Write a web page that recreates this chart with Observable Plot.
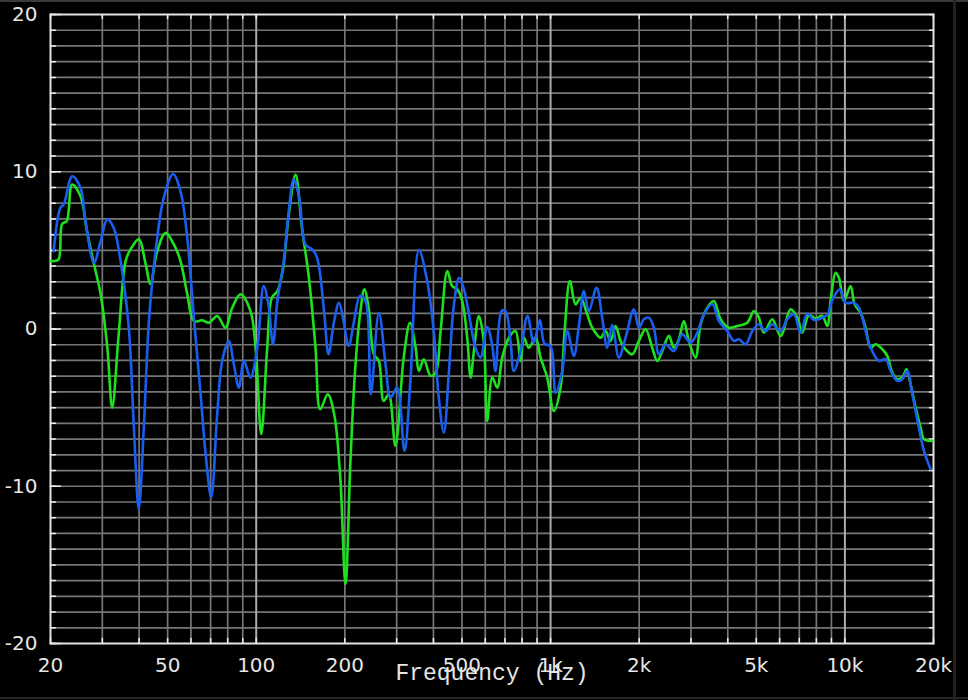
<!DOCTYPE html>
<html>
<head>
<meta charset="utf-8">
<script src="https://cdn.jsdelivr.net/npm/d3@7"></script>
<script src="https://cdn.jsdelivr.net/npm/@observablehq/plot@0.6"></script>
<style>
  html, body { margin: 0; padding: 0; background: #000; }
  #wrap { position: relative; width: 968px; height: 700px; overflow: hidden; }
  #chart svg { display: block; }
  #edgeTop { position: absolute; left: 0; top: 0; width: 968px; height: 2px; background: #3a3a3a; }
  #edgeBottom { position: absolute; left: 0; top: 697px; width: 968px; height: 2px; background: #262626; }
  #edgeRight { position: absolute; left: 953px; top: 0; width: 3px; height: 700px; background: #202020; }
</style>
</head>
<body>
<div id="wrap">
  <div id="chart"></div>
  <div id="edgeTop"></div>
  <div id="edgeBottom"></div>
  <div id="edgeRight"></div>
</div>
<script>
// Series: blue trace
const blueFreq = [20.5, 21.6, 22.2, 23.7, 25.3, 26.3, 28.1, 29.6, 31.2, 32.8, 34.6, 36.9, 38.4, 39.9, 41.5, 43.2, 45.5, 48.5, 52.2, 55.3, 58.3, 61.4, 64.7, 67.3, 70.3, 73.7, 76.6, 80.7, 83.9, 87.3, 90.8, 95.6, 100.8, 106, 110, 114, 118, 124, 129, 134, 140, 147, 155, 161, 170, 176, 184, 191, 198, 206, 215, 225, 235, 245, 261, 275, 286, 301, 319, 334, 357, 381, 401, 417, 434, 451, 469, 489, 510, 528, 556, 578, 609, 634, 650, 682, 703, 731, 750, 791, 835, 877, 920, 954, 1000, 1040, 1096, 1140, 1200, 1248, 1298, 1349, 1433, 1498, 1558, 1620, 1706, 1798, 1919, 1995, 2075, 2158, 2244, 2334, 2458, 2624, 2802, 2990, 3152, 3318, 3544, 3732, 3984, 4196, 4364, 4598, 4846, 5102, 5378, 5668, 6048, 6372, 6710, 7070, 7452, 7846, 8268, 8712, 9060, 9616, 10050, 10730, 11160, 11460, 12230, 13050, 13750, 14300, 15070, 15670, 16290, 16950, 17840, 18560, 19550];
const blueDb = [4.95, 7.70, 7.94, 9.71, 8.97, 6.86, 4.21, 5.59, 6.97, 6.43, 4.32, 0.08, -6.27, -11.45, -6.27, 0.51, 4.95, 8.34, 9.86, 8.76, 5.80, 0.72, -4.13, -7.94, -10.71, -5.40, -2.03, -0.76, -2.22, -3.73, -2.03, -3.09, -1.19, 2.73, 1.57, -0.97, 1.78, 4.32, 7.49, 9.50, 8.34, 5.38, 5.06, 4.53, 1.14, -1.61, 0.51, 1.67, 0.51, -1.08, 0.51, 2.10, 1.78, -4.15, 1.03, -2.24, -4.36, -3.73, -7.75, -3.30, 5.02, 3.05, -0.13, -4.36, -6.60, -2.86, 1.46, 3.26, 2.41, 0.95, -1.19, -1.82, 0.13, -1.08, -2.67, 1.14, 1.14, -0.76, -2.67, -1.40, 0.83, -0.89, 0.57, -0.95, -1.08, -4.06, -2.67, -0.13, -1.71, 0.19, 2.41, 1.14, 2.62, 0.72, -1.19, 0.25, -1.82, -0.55, 1.25, 0.08, 0.62, 0.72, 0.08, -1.61, -0.97, -1.40, -0.34, -0.87, -0.23, 0.93, 1.57, 0.51, -0.13, -0.76, -0.65, -0.97, -0.13, 0.30, -0.13, 0.30, -0.13, 0.62, 0.93, -0.23, 0.98, 0.57, 0.67, 0.89, 1.84, 2.52, 1.67, 1.67, 1.35, 0.72, -1.19, -2.03, -1.92, -2.67, -3.30, -3.19, -2.67, -4.15, -6.27, -7.75, -8.91];

// Series: green trace
const greenFreq = [20, 20.5, 21.3, 21.9, 22.7, 23.7, 25.3, 26.6, 28.1, 29.6, 31.2, 32.4, 34.1, 36.0, 37.4, 39.9, 42.1, 43.7, 46.1, 49.2, 52.5, 55.3, 58.3, 61.4, 65.6, 69.0, 73.7, 78.6, 82.9, 88.4, 95.6, 99.5, 104, 109, 113, 118, 123, 129, 136, 143, 151, 159, 165, 175, 184, 193, 201, 209, 217, 226, 233, 241, 251, 261, 271, 282, 297, 317, 333, 348, 357, 371, 391, 407, 423, 446, 463, 482, 501, 521, 535, 549, 571, 593, 609, 634, 659, 685, 722, 760, 791, 811, 844, 889, 925, 974, 1026, 1081, 1116, 1163, 1216, 1265, 1332, 1386, 1479, 1538, 1599, 1663, 1729, 1798, 1895, 1995, 2102, 2216, 2304, 2396, 2524, 2624, 2728, 2838, 2950, 3110, 3234, 3408, 3588, 3782, 4036, 4310, 4660, 4908, 5102, 5306, 5668, 6048, 6538, 6890, 7166, 7546, 7952, 8380, 8712, 8942, 9298, 9542, 9922, 10460, 10790, 11310, 11760, 12230, 12720, 13400, 13930, 14490, 15070, 15670, 16200, 16720, 17390, 18080, 18560, 19290, 19810];
const greenDb = [4.32, 4.32, 4.43, 6.67, 6.86, 9.19, 8.44, 6.22, 4.13, 2.22, -1.19, -5.00, -0.32, 4.32, 5.06, 5.70, 4.13, 2.86, 4.95, 6.11, 5.38, 4.32, 2.22, 0.51, 0.55, 0.40, 0.83, 0.08, 1.35, 2.20, 1.14, -1.19, -6.69, -1.19, 1.99, 2.41, 3.68, 7.28, 9.82, 6.43, 3.26, -1.19, -5.10, -4.15, -5.42, -9.44, -16.21, -8.38, -2.46, 1.14, 2.52, 1.35, -1.61, -2.03, -4.57, -4.15, -7.43, -1.82, 0.40, -1.19, -2.67, -1.92, -2.98, -2.77, -0.13, 3.68, 2.73, 2.52, 1.78, -0.55, -3.09, -1.40, 0.83, -0.76, -5.84, -3.09, -3.73, -1.82, -0.55, -0.13, -2.03, -0.55, -1.19, -0.55, -1.82, -3.09, -5.21, -3.73, -0.13, 3.05, 1.57, 1.99, 0.93, 0.08, -0.55, -0.13, -0.76, 0.19, -0.76, -1.29, -1.61, -0.76, -0.02, -1.19, -2.03, -1.40, -0.44, -1.19, -0.65, 0.51, -0.76, -1.82, 0.30, 1.35, 1.78, 0.62, 0.08, 0.19, 0.40, 1.14, 0.72, -0.23, 0.62, -0.44, 1.25, 0.72, -0.23, 0.89, 0.67, 0.83, 0.19, 1.78, 3.57, 3.26, 1.78, 2.73, 1.57, 1.03, 0.08, -1.19, -0.97, -1.29, -1.71, -2.77, -3.19, -3.09, -2.56, -3.51, -5.00, -6.27, -7.00, -7.11, -7.11];

// Axis / grid values
const xGridMinor = [30, 40, 50, 60, 70, 80, 90, 200, 300, 400, 500, 600, 700, 800, 900, 2000, 3000, 4000, 5000, 6000, 7000, 8000, 9000];
const xGridMajor = [100, 1000, 10000];
const xTickVals = [20, 30, 40, 50, 60, 70, 80, 90, 100, 200, 300, 400, 500, 600, 700, 800, 900, 1000, 2000, 3000, 4000, 5000, 6000, 7000, 8000, 9000, 10000, 20000];
const xLabelVals = [20, 50, 100, 200, 500, 1000, 2000, 5000, 10000, 20000];
const xLabelText = ["20", "50", "100", "200", "500", "1k", "2k", "5k", "10k", "20k"];
const yGridVals = d3.range(-19, 20);
const yTickVals = d3.range(-20, 21);
const yMajorVals = [-20, -10, 0, 10, 20];
const yLabelVals = [20, 10, 0, -10, -20];
const xTitle = "Frequency (Hz)";

const blue = blueFreq.map((f, i) => ({f, db: blueDb[i]}));
const green = greenFreq.map((f, i) => ({f, db: greenDb[i]}));
const labels = xLabelVals.map((v, i) => ({v, t: xLabelText[i]}));

const tickShape = {draw(context, l) { context.moveTo(0, 0); context.lineTo(0, -l); }};
const labelFont = "DejaVu Sans, Verdana, sans-serif";

const chart = Plot.plot({
  width: 968,
  height: 700,
  marginLeft: 50,
  marginRight: 35,
  marginTop: 14,
  marginBottom: 57,
  x: {type: "log", domain: [20, 20000], axis: null},
  y: {domain: [-20, 20], axis: null},
  style: {background: "#000", overflow: "visible"},
  marks: [
    Plot.ruleY(yGridVals, {y: d => d, stroke: "#767676", strokeWidth: 1.7}),
    Plot.ruleX(xGridMinor, {x: d => d, stroke: "#767676", strokeWidth: 1.7}),
    Plot.ruleX(xGridMajor, {x: d => d, stroke: "#ababab", strokeWidth: 2}),
    // inward tick marks
    Plot.vector(yTickVals, {x: 20, y: d => d, length: 5, rotate: 90, anchor: "start", shape: tickShape, stroke: "#eee", strokeWidth: 1.5}),
    Plot.vector(yMajorVals, {x: 20, y: d => d, length: 10, rotate: 90, anchor: "start", shape: tickShape, stroke: "#eee", strokeWidth: 1.5}),
    Plot.vector(yTickVals, {x: 20000, y: d => d, length: 4, rotate: 270, anchor: "start", shape: tickShape, stroke: "#eee", strokeWidth: 1.5}),
    Plot.vector(xTickVals, {x: d => d, y: 20, length: 4, rotate: 180, anchor: "start", shape: tickShape, stroke: "#eee", strokeWidth: 1.5}),
    Plot.vector(xTickVals, {x: d => d, y: -20, length: 5, rotate: 0, anchor: "start", shape: tickShape, stroke: "#eee", strokeWidth: 1.5}),
    Plot.frame({stroke: "#e4e4e4", strokeWidth: 2}),
    // traces
    Plot.line(green, {x: "f", y: "db", stroke: "#1ee01e", strokeWidth: 2.6, curve: "catmull-rom"}),
    Plot.line(blue, {x: "f", y: "db", stroke: "#1a5ef0", strokeWidth: 2.6, curve: "catmull-rom"}),
    // labels
    Plot.text(labels, {x: "v", y: -20, text: "t", dy: 22, fontSize: 20, fill: "#e6e6e6", fontFamily: labelFont}),
    Plot.text(yLabelVals, {x: 20, y: d => d, text: d => String(d), dx: -13, textAnchor: "end", fontSize: 20, fill: "#e6e6e6", fontFamily: labelFont}),
    Plot.text([xTitle], {frameAnchor: "bottom", text: d => d, dy: 36, fontSize: 23, fill: "#e6e6e6", fontFamily: "Liberation Mono, DejaVu Sans Mono, monospace"})
  ]
});
document.getElementById("chart").appendChild(chart);
</script>
</body>
</html>
